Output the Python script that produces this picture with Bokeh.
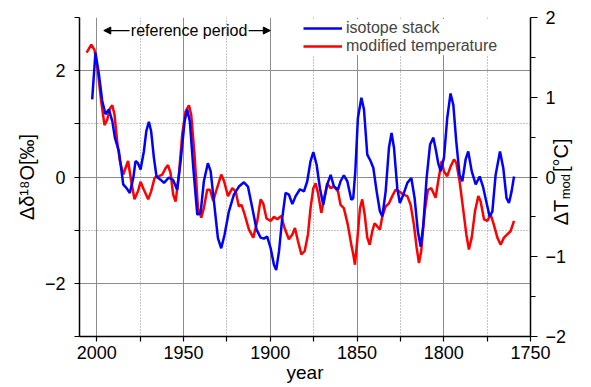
import math
from bokeh.plotting import figure
from bokeh.models import (Range1d, LinearAxis, FixedTicker, Legend, LegendItem,
                          Label, Arrow, NormalHead)
from bokeh.embed import file_html
from bokeh.resources import INLINE

# ---------------- data ----------------
blue_years = [2002.7, 2000.8, 1998.8, 1996.9, 1995.0, 1993.1, 1991.1, 1989.6, 1987.3, 1986.0,
              1984.8, 1982.9, 1981.0, 1979.0, 1977.7, 1976.3, 1974.8, 1972.9, 1971.5, 1970.0,
              1968.7, 1967.1, 1965.6, 1963.3, 1961.3, 1958.5, 1956.0, 1953.7, 1951.7, 1949.4,
              1947.9, 1946.4, 1944.4, 1942.1, 1940.2, 1938.3, 1936.0, 1934.4, 1932.5, 1930.2,
              1928.3, 1926.4, 1923.9, 1921.0, 1918.1, 1915.2, 1912.9, 1910.4, 1907.9, 1905.6,
              1903.7, 1901.8, 1899.8, 1897.9, 1896.6, 1895.0, 1893.1, 1891.2, 1889.3, 1887.3,
              1885.4, 1882.9, 1880.6, 1878.7, 1876.8, 1875.2, 1873.3, 1871.4, 1869.5, 1867.2,
              1865.2, 1863.3, 1861.0, 1859.5, 1857.6, 1855.6, 1853.3, 1852.2, 1851.0, 1849.5,
              1847.5, 1846.0, 1844.1, 1842.2, 1840.6, 1838.7, 1836.8, 1835.4, 1833.5, 1831.6,
              1830.1, 1828.7, 1826.8, 1825.3, 1823.3, 1821.0, 1818.7, 1816.8, 1814.9, 1813.3,
              1811.8, 1809.9, 1807.9, 1806.0, 1804.5, 1803.2, 1801.8, 1799.9, 1798.0, 1796.1,
              1794.5, 1792.8, 1790.9, 1789.3, 1787.4, 1785.9, 1783.9, 1781.6, 1779.3, 1777.4,
              1775.5, 1773.6, 1772.0, 1770.1, 1767.6, 1765.7, 1763.8, 1762.4, 1760.9, 1759.5]
blue_d18o = [1.46, 2.34, 1.93, 1.43, 1.18, 1.27, 1.05, 0.74, 0.48, 0.17,
             -0.14, -0.21, -0.30, -0.02, 0.30, 0.26, 0.14, 0.48, 0.86, 1.04,
             0.86, 0.36, 0.01, -0.05, -0.11, -0.01, -0.06, -0.24, 0.30, 1.05,
             1.27, 1.05, 0.17, -0.71, -0.68, -0.08, 0.26, 0.11, -0.46, -1.15,
             -1.34, -1.09, -0.65, -0.33, -0.18, -0.10, -0.18, -0.58, -0.99, -1.14,
             -1.16, -1.12, -1.34, -1.65, -1.75, -1.40, -0.77, -0.30, -0.33, -0.51,
             -0.36, -0.23, -0.27, -0.08, 0.30, 0.47, 0.23, -0.21, -0.52, -0.14,
             0.04, -0.18, -0.24, -0.08, 0.03, -0.08, -0.43, -0.40, 0.10, 1.11,
             1.49, 1.27, 0.42, 0.30, 0.17, -0.27, -0.65, -0.74, -0.27, 0.55,
             0.83, 0.55, -0.21, -0.49, -0.33, -0.11, -0.02, -0.40, -1.03, -1.31,
             -0.90, -0.02, 0.61, 0.74, 0.50, 0.26, 0.11, 0.36, 1.11, 1.57,
             1.36, 0.67, 0.04, -0.08, 0.33, 0.48, 0.11, -0.14, 0.01, -0.18,
             -0.46, -0.74, -0.65, 0.04, 0.48, 0.17, -0.40, -0.49, -0.27, 0.01]

red_years = [2005.9, 2003.2, 2001.3, 1999.4, 1997.5, 1995.6, 1994.0, 1992.5, 1991.1, 1989.8,
             1988.3, 1986.7, 1984.8, 1983.5, 1982.0, 1980.2, 1978.3, 1976.3, 1974.8, 1972.9,
             1970.4, 1968.7, 1966.7, 1964.2, 1962.3, 1960.4, 1959.0, 1957.5, 1956.0, 1954.6,
             1952.7, 1950.8, 1948.9, 1946.9, 1945.6, 1943.7, 1941.7, 1939.8, 1938.3, 1936.4,
             1934.8, 1932.9, 1931.0, 1928.3, 1926.7, 1924.4, 1921.9, 1920.0, 1918.1, 1916.6,
             1914.8, 1912.3, 1909.8, 1907.5, 1905.6, 1904.1, 1902.2, 1899.8, 1897.9, 1896.0,
             1893.7, 1891.8, 1889.3, 1887.3, 1885.8, 1884.1, 1882.1, 1880.2, 1878.3, 1876.8,
             1875.2, 1873.9, 1872.5, 1870.6, 1868.7, 1867.2, 1865.2, 1863.3, 1861.0, 1859.5,
             1857.6, 1855.3, 1853.3, 1852.2, 1851.2, 1849.9, 1848.3, 1847.0, 1845.6, 1844.1,
             1842.7, 1841.2, 1839.9, 1838.3, 1836.8, 1835.4, 1833.5, 1831.6, 1829.7, 1827.8,
             1825.8, 1823.3, 1821.0, 1819.1, 1817.2, 1815.6, 1814.3, 1813.0, 1811.0, 1809.1,
             1807.2, 1804.7, 1803.2, 1801.2, 1799.9, 1798.0, 1796.1, 1794.1, 1792.8, 1790.9,
             1788.9, 1787.0, 1785.5, 1783.9, 1782.0, 1780.1, 1778.8, 1776.8, 1774.9, 1773.0,
             1771.1, 1769.1, 1767.2, 1765.3, 1763.4, 1761.5, 1759.5]
red_temp = [1.56, 1.66, 1.59, 1.32, 0.95, 0.65, 0.72, 0.86, 0.90, 0.78,
            0.45, 0.20, 0.03, 0.11, 0.20, -0.05, -0.28, -0.18, -0.06, -0.16,
            -0.28, -0.18, -0.01, 0.01, 0.03, 0.11, 0.15, 0.05, -0.22, -0.31,
            0.03, 0.53, 0.82, 0.90, 0.78, 0.28, -0.39, -0.51, -0.39, -0.16,
            -0.16, -0.30, -0.16, 0.03, -0.05, -0.24, -0.14, -0.18, -0.37, -0.35,
            -0.47, -0.66, -0.76, -0.55, -0.28, -0.33, -0.52, -0.55, -0.50, -0.53,
            -0.49, -0.64, -0.78, -0.72, -0.64, -0.80, -0.97, -0.93, -0.72, -0.39,
            -0.14, -0.08, -0.20, -0.45, -0.24, -0.08, -0.14, -0.12, -0.18, -0.35,
            -0.39, -0.60, -0.85, -0.97, -1.10, -0.80, -0.39, -0.28, -0.47, -0.76,
            -0.85, -0.68, -0.58, -0.62, -0.66, -0.49, -0.37, -0.33, -0.24, -0.16,
            -0.18, -0.22, -0.24, -0.35, -0.60, -0.89, -1.08, -0.93, -0.43, -0.16,
            -0.14, -0.26, -0.05, 0.20, 0.07, 0.01, 0.13, 0.22, 0.18, -0.05,
            -0.39, -0.72, -0.91, -0.76, -0.43, -0.24, -0.30, -0.53, -0.55, -0.47,
            -0.60, -0.76, -0.85, -0.76, -0.72, -0.68, -0.55]

x_major_ticks = [2000, 1950, 1900, 1850, 1800, 1750]
x_minor_ticks = [1975, 1925, 1875, 1825, 1775]
left_major_ticks = [-2, 0, 2]
left_minor_ticks = [-3, -1, 1, 3]
right_major_ticks = [-2, -1, 0, 1, 2]
right_minor_ticks = [-1.5, -0.5, 0.5, 1.5]
reference_period = (1996, 1900)

FONT = "Liberation Sans"
GRID = "#8c8c8c"
NB = "\u00a0"

p = figure(width=591, height=387, x_range=Range1d(2010, 1750), y_range=Range1d(-3, 3),
           output_backend="svg", toolbar_location=None,
           min_border_left=79, min_border_right=61, min_border_top=17, min_border_bottom=51)
p.extra_y_ranges = {"T": Range1d(-2, 2)}
p.outline_line_color = None
p.background_fill_color = "white"
p.border_fill_color = "white"

red = p.line(red_years, red_temp, y_range_name="T", line_color="#ff0000", line_width=2.5)
blue = p.line(blue_years, blue_d18o, line_color="#0000ff", line_width=2.5)


def minus(v):
    return ("%g" % v).replace("-", "\u2212")


def style_axis(ax, tick_out_major, tick_out_minor, standoff):
    ax.axis_line_color = "black"
    ax.axis_line_width = 1.5
    ax.major_tick_line_color = "black"
    ax.major_tick_line_width = 1.2
    ax.minor_tick_line_color = "black"
    ax.minor_tick_line_width = 1.2
    ax.major_tick_in = 0
    ax.minor_tick_in = 0
    ax.major_tick_out = tick_out_major
    ax.minor_tick_out = tick_out_minor
    ax.major_label_standoff = standoff
    ax.major_label_text_font = FONT
    ax.major_label_text_font_size = "18px"
    ax.major_label_text_color = "black"
    ax.major_label_text_font_style = "normal"
    ax.axis_label_text_font = FONT
    ax.axis_label_text_font_style = "normal"
    ax.axis_label_text_color = "black"


HAS_ALIGN = "axis_label_align" in LinearAxis.properties()


def set_orient(ax, angle):
    try:
        ax.axis_label_orientation = angle
    except AttributeError:
        pass
    if HAS_ALIGN:
        ax.axis_label_align = "start"


xax = p.xaxis[0]
xax.ticker = FixedTicker(ticks=x_major_ticks, minor_ticks=x_minor_ticks)
style_axis(xax, 5, 5, 4)
xax.axis_label = "year"
xax.axis_label_text_font_size = "19px"
xax.axis_label_standoff = 0

lax = p.yaxis[0]
lax.ticker = FixedTicker(ticks=left_major_ticks, minor_ticks=left_minor_ticks)
lax.major_label_overrides = {t: minus(t) for t in left_major_ticks}
style_axis(lax, 5, 5, 9)
lax.axis_label = "\u0394\u03b4\u00b9\u2078O[\u2030]"
lax.axis_label_text_font_size = "20px"
lax.axis_label_standoff = 4

rax = LinearAxis(y_range_name="T",
                 ticker=FixedTicker(ticks=right_major_ticks, minor_ticks=right_minor_ticks))
rax.major_label_overrides = {t: minus(t) for t in right_major_ticks}
style_axis(rax, 7, 5, 8)
rax.axis_label_text_font_size = "20px"
rax.axis_label_standoff = -8
set_orient(rax, math.pi / 2)
p.add_layout(rax, "right")

# subscript "mod" of the right axis label
sub = LinearAxis(y_range_name="T", ticker=FixedTicker(ticks=[]))
style_axis(sub, 0, 0, 0)
sub.axis_line_color = None
sub.axis_label_text_font_size = "13px"
sub.axis_label_standoff = -21
set_orient(sub, math.pi / 2)
p.add_layout(sub, "right")

if HAS_ALIGN:
    rax.axis_label = NB * 20 + "\u0394T" + NB * 5 + "[\u00b0C]"
    sub.axis_label = NB * 38 + "mod"
else:
    rax.axis_label = "\u0394T" + NB * 5 + "[\u00b0C]"
    sub.axis_label = NB * 7 + "mod"

# grids
p.xgrid.ticker = FixedTicker(ticks=x_major_ticks, minor_ticks=x_minor_ticks)
p.ygrid.ticker = FixedTicker(ticks=left_major_ticks, minor_ticks=[-1, 1])
for g in (p.xgrid[0], p.ygrid[0]):
    g.grid_line_color = GRID
    g.grid_line_width = 1
    g.minor_grid_line_color = GRID
    g.minor_grid_line_width = 1
    g.minor_grid_line_dash = "1 2"


# helper to place text by pixel position in the canvas
def px2x(px):
    return 2000 - (px - 96.3) * 50 / 86.7


def py2y(py):
    return 3 - (py - 17) / 53.0


# reference period annotation
ref_y = py2y(30)
p.add_layout(Label(x=px2x(188.5), y=ref_y, text="reference period",
                   text_font=FONT, text_font_size="16px", text_color="black",
                   text_align="center", text_baseline="middle"))
p.add_layout(Arrow(end=NormalHead(size=7, line_color="black", fill_color="black"),
                   x_start=px2x(129), y_start=ref_y, x_end=reference_period[0], y_end=ref_y,
                   line_color="black", line_width=1.3))
p.add_layout(Arrow(end=NormalHead(size=7, line_color="black", fill_color="black"),
                   x_start=px2x(248), y_start=ref_y, x_end=reference_period[1], y_end=ref_y,
                   line_color="black", line_width=1.3))

legend = Legend(items=[LegendItem(label="isotope stack", renderers=[blue]),
                       LegendItem(label="modified temperature", renderers=[red])],
                location=(224, 281))
legend.label_text_font = FONT
legend.label_text_font_size = "16px"
legend.glyph_width = 39
legend.glyph_height = 14
legend.label_height = 14
legend.label_standoff = 4
legend.spacing = 0
legend.padding = 0
legend.margin = 0
legend.border_line_color = None
legend.background_fill_color = "white"
legend.background_fill_alpha = 1
p.add_layout(legend)

open("out.html", "w").write(file_html(p, INLINE))
